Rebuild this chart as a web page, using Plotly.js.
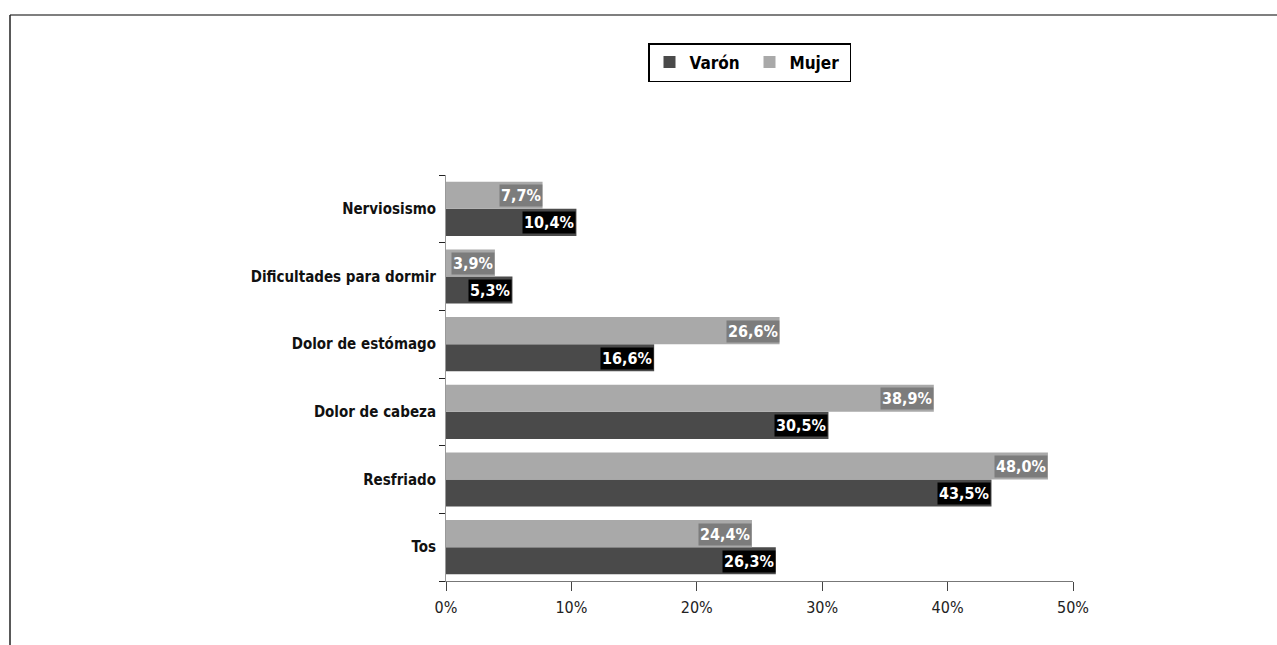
<!DOCTYPE html>
<html>
<head>
<meta charset="utf-8">
<script src="https://cdn.plot.ly/plotly-3.0.1.min.js"></script>
<style>
html,body{margin:0;padding:0;background:#fff;}
#chart{width:1277px;height:645px;}
</style>
</head>
<body>
<div id="chart"></div>
<script>
var categories = ["Tos", "Resfriado", "Dolor de cabeza", "Dolor de estómago", "Dificultades para dormir", "Nerviosismo"];
var varon = [26.3, 43.5, 30.5, 16.6, 5.3, 10.4];
var mujer = [24.4, 48.0, 38.9, 26.6, 3.9, 7.7];
var seriesNames = ["Varón", "Mujer"];
var xTicks = [0, 10, 20, 30, 40, 50];
var xTickLabels = ["0%", "10%", "20%", "30%", "40%", "50%"];

var FONT = '"Liberation Sans Narrow", "DejaVu Sans Condensed", "Roboto Condensed", Arial, sans-serif';

function fmt(v) { return v.toFixed(1).replace('.', ',') + '%'; }

var traces = [
  {
    type: 'bar', orientation: 'h', name: seriesNames[0],
    y: categories, x: varon,
    marker: {color: '#4a4a4a', line: {width: 0}},
    hoverinfo: 'none'
  },
  {
    type: 'bar', orientation: 'h', name: seriesNames[1],
    y: categories, x: mujer,
    marker: {color: '#a9a9a9', line: {width: 0}},
    hoverinfo: 'none'
  }
];

var annotations = [];
categories.forEach(function (c, i) {
  annotations.push({
    x: varon[i], y: c, xref: 'x', yref: 'y', xanchor: 'right', yanchor: 'middle',
    yshift: -14, text: '<b>' + fmt(varon[i]) + '</b>', showarrow: false,
    font: {family: FONT, size: 16, color: '#ffffff'},
    bgcolor: '#000000', borderpad: 1
  });
  annotations.push({
    x: mujer[i], y: c, xref: 'x', yref: 'y', xanchor: 'right', yanchor: 'middle',
    yshift: 13, text: '<b>' + fmt(mujer[i]) + '</b>', showarrow: false,
    font: {family: FONT, size: 16, color: '#ffffff'},
    bgcolor: 'rgba(80,80,80,0.5)', borderpad: 1
  });
});

var L = 446, R = 1073, T = 175, B = 581;
function px2x(p) { return (p - L) / (R - L); }
function py2y(p) { return (B - p) / (B - T); }

var layout = {
  width: 1277, height: 645,
  margin: {l: L, r: 1277 - R, t: T, b: 645 - B, pad: 0},
  paper_bgcolor: '#ffffff', plot_bgcolor: '#ffffff',
  barmode: 'group', bargap: 0.2, bargroupgap: 0,
  font: {family: FONT, color: '#111'},
  showlegend: true,
  legend: {
    orientation: 'h', x: px2x(648), y: py2y(43), xanchor: 'left', yanchor: 'top',
    bordercolor: '#000', borderwidth: 1.5, bgcolor: '#fff',
    font: {family: FONT, size: 17, color: '#000', weight: 'bold'},
    traceorder: 'normal', entrywidth: 55, entrywidthmode: 'pixels'
  },
  xaxis: {
    range: [0, 50], tickvals: xTicks, ticktext: xTickLabels,
    showgrid: false, zeroline: false,
    showline: true, linecolor: '#777', linewidth: 1,
    ticks: 'outside', ticklen: 9, tickcolor: '#444', tickwidth: 1,
    tickfont: {family: FONT, size: 16, color: '#222'}, fixedrange: true,
    ticklabelstandoff: 3
  },
  yaxis: {
    type: 'category', showgrid: false, zeroline: false,
    showline: true, linecolor: '#999', linewidth: 1,
    ticks: 'outside', tickson: 'boundaries', ticklen: 6, tickcolor: '#222',
    tickfont: {family: FONT, size: 15, color: '#111', weight: 'bold'},
    ticklabelstandoff: 6, fixedrange: true
  },
  annotations: annotations,
  shapes: [
    {type: 'line', xref: 'paper', yref: 'paper', x0: px2x(10), x1: px2x(1277), y0: py2y(15), y1: py2y(15), line: {color: '#555', width: 1.5}},
    {type: 'line', xref: 'paper', yref: 'paper', x0: px2x(10), x1: px2x(10), y0: py2y(15), y1: py2y(645), line: {color: '#222', width: 1.5}}
  ]
};

Plotly.newPlot('chart', traces, layout, {displayModeBar: false, staticPlot: true});
</script>
</body>
</html>
